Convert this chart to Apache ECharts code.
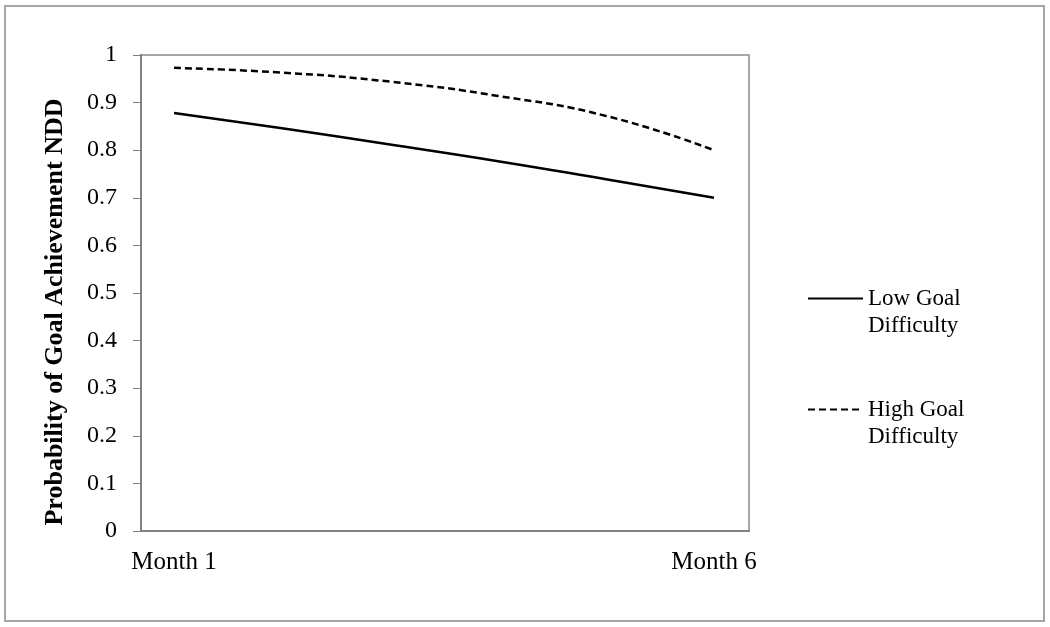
<!DOCTYPE html>
<html>

<head>
  <meta charset="utf-8">
  <style>
    html,
    body {
      width: 100%;
      height: 100%;
      margin: 0;
      padding: 0;
      overflow: hidden;
      background-color: #fff;
    }

    #container {
      width: 1050px;
      height: 627px;
      position: absolute;
      top: 0;
      left: 0;
    }
  </style>
</head>

<body>
  <div id="container"></div>

  <script src="https://cdn.jsdelivr.net/npm/echarts@6/dist/echarts.min.js"></script>
  <script>
    // data
    var months = ['Month 1', 'Month 2', 'Month 3', 'Month 4', 'Month 5', 'Month 6'];
    var monthLabels = [1, 6];
    var lowGoal = [0.878, 0.846, 0.812, 0.777, 0.739, 0.700];
    var highGoal = [0.973, 0.963, 0.944, 0.914, 0.872, 0.800];
    var seriesNames = ['Low Goal\nDifficulty', 'High Goal\nDifficulty'];

    var font = '"Liberation Serif", "Times New Roman", serif';

    function toPoints(values) {
      return values.map(function (v, i) {
        return [i + 1, v];
      });
    }

    var chart = echarts.init(document.getElementById('container'));

    chart.setOption({
      animation: false,
      textStyle: { fontFamily: font, color: '#000' },
      graphic: [{
        type: 'rect',
        shape: { x: 5, y: 6, width: 1039, height: 615 },
        style: { fill: 'none', stroke: '#a6a6a6', lineWidth: 2 },
        silent: true
      }],
      grid: {
        left: 141,
        right: 301,
        top: 55,
        bottom: 96,
        show: true,
        borderColor: '#a6a6a6',
        borderWidth: 2
      },
      legend: {
        orient: 'vertical',
        left: 802,
        top: 253,
        itemWidth: 55,
        itemHeight: 14,
        itemGap: 30,
        itemStyle: { color: 'transparent', borderWidth: 0 },
        textStyle: {
          fontFamily: font,
          fontSize: 23,
          lineHeight: 27,
          color: '#000'
        },
        // blank first line keeps the icon level with the first text line
        formatter: function (name) {
          return ' \n' + name;
        },
        data: seriesNames
      },
      xAxis: {
        type: 'value',
        min: 0.694,
        max: 6.324,
        splitLine: { show: false },
        axisLine: { lineStyle: { color: '#808080', width: 2 } },
        axisTick: { show: false },
        axisLabel: {
          customValues: monthLabels,
          fontSize: 25,
          color: '#000',
          margin: 19,
          formatter: function (v) {
            return months[Math.round(v) - 1];
          }
        }
      },
      yAxis: {
        type: 'value',
        min: 0,
        max: 1,
        interval: 0.1,
        name: 'Probability of Goal Achievement NDD',
        nameLocation: 'middle',
        nameGap: 73,
        nameTextStyle: {
          fontFamily: font,
          fontSize: 26,
          fontWeight: 'bold',
          color: '#000',
          padding: [0, 38, 0, 0]
        },
        splitLine: { show: false },
        axisLine: { show: true, lineStyle: { color: '#808080', width: 2 } },
        axisTick: { show: true, length: 8, lineStyle: { color: '#808080', width: 1 } },
        axisLabel: {
          fontSize: 24,
          color: '#000',
          margin: 24,
          formatter: function (v) {
            return v === 0 || v === 1 ? String(v) : v.toFixed(1);
          }
        }
      },
      series: [{
        name: seriesNames[0],
        type: 'line',
        smooth: true,
        symbol: 'none',
        data: toPoints(lowGoal),
        lineStyle: { color: '#000', width: 2.5, type: 'solid' },
        itemStyle: { color: '#000' }
      }, {
        name: seriesNames[1],
        type: 'line',
        smooth: true,
        symbol: 'none',
        data: toPoints(highGoal),
        lineStyle: { color: '#000', width: 2.5, type: [7, 4] },
        itemStyle: { color: '#000' }
      }]
    });
  </script>
</body>

</html>
